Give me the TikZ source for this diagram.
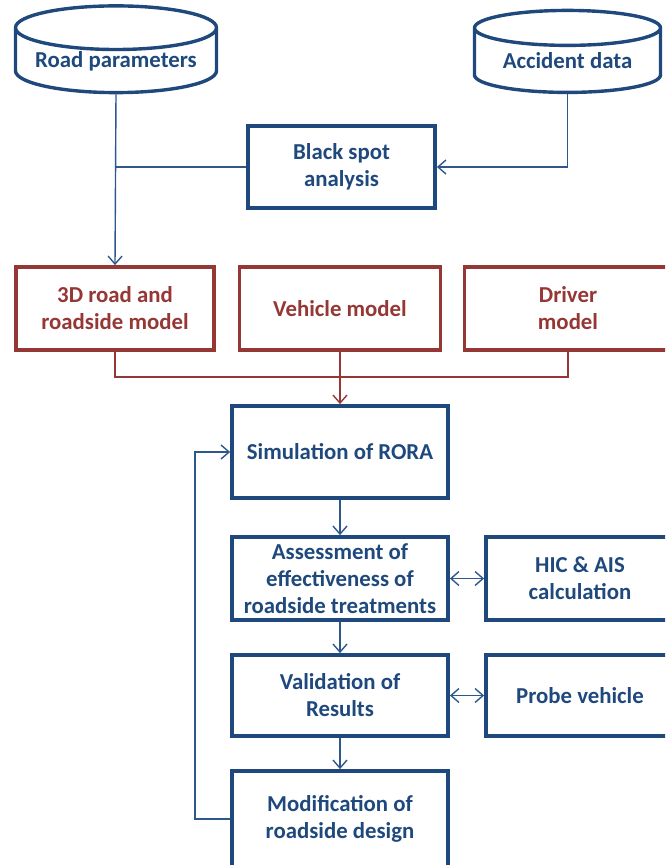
\documentclass[tikz,border=0pt]{standalone}
\usepackage{fontspec}
\setmainfont{Carlito}
\usetikzlibrary{shapes.geometric,arrows.meta}
\definecolor{navy}{HTML}{1F497D}
\definecolor{wine}{HTML}{953735}
\definecolor{wire}{HTML}{2E578C}
\tikzset{
  blk/.style={draw=navy, line width=3.8pt, text=navy, fill=white,
    font=\bfseries\fontsize{22.8}{27}\selectfont, align=center, inner sep=0pt},
  redblk/.style={blk, draw=wine, text=wine},
  db/.style={cylinder, shape border rotate=90, aspect=0.27, draw=navy,
    line width=3.4pt, text=navy, font=\bfseries\fontsize{22.8}{27}\selectfont,
    inner sep=0pt},
  flow/.style={draw=wire, line width=1.4pt, -{Straight Barb[length=8pt,width=14pt]}},
  twoway/.style={flow, {Straight Barb[length=8pt,width=14pt]}-{Straight Barb[length=8pt,width=14pt]}},
  link/.style={draw=wire, line width=1.4pt},
  redlink/.style={draw=wine, line width=1.4pt},
  redflow/.style={redlink, -{Straight Barb[length=8pt,width=14pt]}}
}

\begin{document}
\begin{tikzpicture}[x=1pt, y=-1pt]
  \clip (0,0) rectangle (665,865);

  % data sources
  \node[db, minimum width=201pt, minimum height=80pt] (road) at (116,61) {Road parameters};
  \node[db, minimum width=186pt, minimum height=82pt] (acc) at (567.5,61) {Accident data};
  \node[blk, minimum width=187pt, minimum height=82pt] (black) at (341.5,167) {Black spot\\analysis};

  % models
  \node[redblk, minimum width=198pt, minimum height=83pt] (road3d) at (115,308.5) {3D road and\\roadside model};
  \node[redblk, minimum width=201pt, minimum height=83pt] (vehicle) at (340,308.5) {Vehicle model};
  \node[redblk, minimum width=207pt, minimum height=83pt] (driver) at (568,308.5) {Driver\\model};

  % simulation chain
  \node[blk, minimum width=216pt, minimum height=92pt] (sim) at (340,452) {Simulation of RORA};
  \node[blk, minimum width=216pt, minimum height=83pt] (assess) at (340,578.5) {Assessment of\\effectiveness of\\roadside treatments};
  \node[blk, minimum width=188pt, minimum height=83pt] (hic) at (580,578.5) {HIC \& AIS\\calculation};
  \node[blk, minimum width=216pt, minimum height=81pt] (valid) at (340,695.5) {Validation of\\Results};
  \node[blk, minimum width=188pt, minimum height=81pt] (probe) at (580,695.5) {Probe vehicle};
  \node[blk, minimum width=216pt, minimum height=96pt] (modif) at (340,819) {Modification of\\roadside design};

  \coordinate (bus) at (340,377);
  \coordinate (loop) at (195,819);

  \draw[flow] (road.south) -- (road3d.north);
  \draw[link] (black.west) -- (road.south |- black.west);
  \draw[flow] (acc.south) |- (black.east);

  \draw[redlink] (road3d.south) |- (bus) -| (driver.south);
  \draw[redflow] (vehicle.south) -- (sim.north);

  \draw[flow] (sim.south) -- (assess.north);
  \draw[flow] (assess.south) -- (valid.north);
  \draw[flow] (valid.south) -- (modif.north);
  \draw[twoway] (assess.east) -- (hic.west);
  \draw[twoway] (valid.east) -- (probe.west);
  \draw[flow] (modif.west) -- (loop) |- (sim.west);
\end{tikzpicture}
\end{document}
